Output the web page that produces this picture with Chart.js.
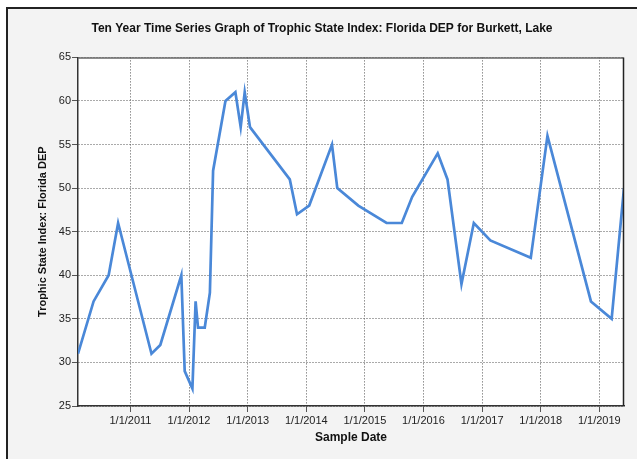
<!DOCTYPE html>
<html>
<head>
<meta charset="utf-8">
<script src="https://cdn.jsdelivr.net/npm/chart.js@4"></script>
<style>
  html, body { margin: 0; padding: 0; background: #ffffff; }
  #frame {
    position: absolute; left: 6px; top: 7px; width: 631px; height: 452px;
    background: #f3f3f3; border-left: 2px solid #222; border-top: 2px solid #222;
    box-sizing: border-box;
  }
  #wrap { position: absolute; left: 0; top: 0; width: 637px; height: 459px; }
</style>
</head>
<body>
<div id="frame"></div>
<div id="wrap"><canvas id="chart"></canvas></div>
<script>
// sample dates and Trophic State Index values
const sampleDates = [
  '2010-02-08', '2010-05-16', '2010-08-18', '2010-10-16', '2011-05-12', '2011-07-06',
  '2011-11-14', '2011-12-05', '2012-01-22', '2012-02-11', '2012-02-26', '2012-04-08',
  '2012-05-10', '2012-05-30', '2012-08-15', '2012-10-16', '2012-11-18', '2012-12-13',
  '2013-01-15', '2013-09-20', '2013-11-04', '2014-01-19', '2014-06-10', '2014-07-13',
  '2014-11-21', '2015-05-16', '2015-08-19', '2015-10-23', '2016-03-30', '2016-05-30',
  '2016-08-25', '2016-11-10', '2017-02-21', '2017-10-31', '2018-02-12', '2018-11-10',
  '2019-03-19', '2019-06-04'
];
const tsiValues = [
  31, 37, 40, 46, 31, 32,
  40, 29, 27, 37, 34, 34,
  38, 52, 60, 61, 57, 61,
  57, 51, 47, 48, 55, 50,
  48, 46, 46, 49, 54, 51,
  39, 46, 44, 42, 56, 37,
  35, 50
];
const tickYears = [2011, 2012, 2013, 2014, 2015, 2016, 2017, 2018, 2019];
const yTicks = { min: 25, max: 65, step: 5 };

const points = sampleDates.map((d, i) => ({ x: Date.parse(d + 'T00:00:00Z'), y: tsiValues[i] }));

const plotBackground = {
  id: 'plotBackground',
  beforeDraw(chart) {
    const { ctx, chartArea: a } = chart;
    ctx.save();
    ctx.fillStyle = '#ffffff';
    ctx.fillRect(a.left, a.top, a.right - a.left, a.bottom - a.top);
    ctx.restore();
  },
  afterDatasetsDraw(chart) {
    const { ctx, chartArea: a } = chart;
    ctx.save();
    ctx.lineWidth = 1.5;
    ctx.strokeStyle = '#666';
    ctx.beginPath();
    ctx.moveTo(a.left, a.top + 0.5);
    ctx.lineTo(a.right - 0.5, a.top + 0.5);
    ctx.stroke();
    ctx.strokeStyle = '#222';
    ctx.beginPath();
    ctx.moveTo(a.right - 0.5, a.top);
    ctx.lineTo(a.right - 0.5, a.bottom);
    ctx.stroke();
    ctx.restore();
  }
};

Chart.defaults.font.family = '"Liberation Sans", Arial, sans-serif';
Chart.defaults.color = '#333';

new Chart(document.getElementById('chart'), {
  type: 'line',
  data: {
    datasets: [{
      data: points,
      borderColor: '#4a88d8',
      borderWidth: 2.7,
      pointRadius: 0,
      tension: 0,
      fill: false
    }]
  },
  plugins: [plotBackground],
  options: {
    responsive: true,
    maintainAspectRatio: false,
    animation: false,
    events: [],
    layout: { padding: { left: 7, right: 0, top: 0, bottom: 0 } },
    plugins: {
      legend: { display: false },
      tooltip: { enabled: false },
      title: {
        display: true,
        text: 'Ten Year Time Series Graph of Trophic State Index: Florida DEP for Burkett, Lake',
        color: '#111',
        font: { size: 12, weight: 'bold' },
        padding: { top: 21, bottom: 22 }
      }
    },
    scales: {
      x: {
        type: 'linear',
        min: points[0].x,
        max: points[points.length - 1].x,
        afterBuildTicks(scale) {
          scale.ticks = tickYears.map(y => ({ value: Date.UTC(y, 0, 1) }));
        },
        afterFit(scale) { scale.height = 53; },
        ticks: {
          autoSkip: false,
          maxRotation: 0,
          padding: 2,
          color: '#222',
          font: { size: 11 },
          callback: v => '1/1/' + new Date(v).getUTCFullYear()
        },
        grid: { color: '#555', tickLength: 6 },
        border: { color: '#333', width: 1.5, dash: [1, 2] },
        title: {
          display: true,
          text: 'Sample Date',
          color: '#111',
          font: { size: 12, weight: 'bold' },
          padding: { top: 0, bottom: 14 }
        }
      },
      y: {
        min: yTicks.min,
        max: yTicks.max,
        afterFit(scale) { scale.width = 71; },
        ticks: { stepSize: yTicks.step, padding: 1, color: '#222', font: { size: 11 } },
        grid: { color: '#555', tickLength: 6 },
        border: { color: '#333', width: 1.5, dash: [1, 2] },
        title: {
          display: true,
          text: 'Trophic State Index: Florida DEP',
          color: '#111',
          font: { size: 11, weight: 'bold' },
          padding: { top: 29, bottom: 0 }
        }
      },
      yRight: {
        position: 'right',
        display: true,
        afterFit(scale) { scale.width = 13; },
        ticks: { display: false },
        grid: { display: false },
        border: { display: false }
      }
    }
  }
});
</script>
</body>
</html>
